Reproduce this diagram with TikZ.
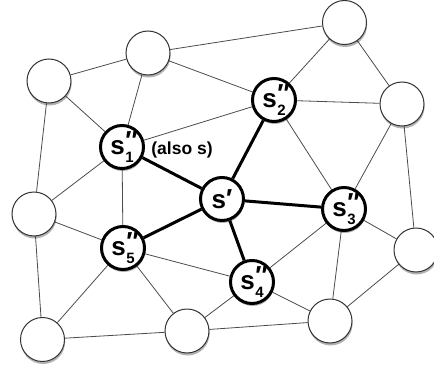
\documentclass[tikz,border=0pt]{standalone}
\usepackage{fontspec}
\setmainfont{Liberation Sans}
\usetikzlibrary{shadows}
\pgfdeclarelayer{background}
\pgfsetlayers{background,main}
\newcommand{\sdd}[1]{s\rlap{\raisebox{0.22em}{\fontsize{26}{26}\selectfont\kern0.5pt ″}}\raisebox{-0.3em}{\fontsize{15}{15}\selectfont\kern0.5pt #1}}
\tikzset{
  plain/.style={circle, draw=black!80, line width=1pt, fill=white, minimum size=44pt, inner sep=0pt,
    drop shadow={opacity=0.3, shadow xshift=0.6pt, shadow yshift=-2.5pt, fill=black}},
  key/.style={circle, draw=black, line width=3pt, fill=white, minimum size=43pt, inner sep=0pt,
    font=\fontsize{26}{26}\selectfont\bfseries,
    drop shadow={opacity=0.3, shadow xshift=0.6pt, shadow yshift=-2.5pt, fill=black}},
  thin/.style={draw=black!70, line width=0.8pt},
  thick/.style={draw=black, line width=3pt},
}
\begin{document}
\begin{tikzpicture}[x=1pt,y=-1pt]
\useasboundingbox (0,0) rectangle (434,372);
\clip (0,0) rectangle (434,372);
\node[plain] (A) at (49,81) {};
\node[plain] (B) at (148,53) {};
\node[plain] (TR) at (344.5,22.5) {};
\node[plain] (R) at (402,104) {};
\node[plain] (L) at (34,214) {};
\node[plain] (RL) at (416,250) {};
\node[plain] (BL) at (42.5,339.5) {};
\node[plain] (BM) at (187,331) {};
\node[plain] (BR) at (330,321) {};
\node[key] (s1) at (122,147) {\sdd{1}};
\node[key] (s2) at (274,100) {\sdd{2}};
\node[key] (sp) at (222,199) {s\raisebox{0.02em}{′}};
\node[key] (s3) at (344,209) {\sdd{3}};
\node[key] (s4) at (252,282) {\sdd{4}};
\node[key] (s5) at (123,248) {\sdd{5}};
\node[font=\fontsize{17.5}{17.5}\selectfont\bfseries] (also) at (182,150) {(also s)};
\begin{pgfonlayer}{background}
\foreach \a/\b in {A/B, A/s1, A/L, B/TR, B/s2, B/s1, s1/s2, s1/L, s1/s5, TR/s2, TR/R, s2/R, s2/s3, R/s3, R/RL, s3/RL, s3/BR, s3/s4, RL/BR, s4/BR, s4/BM, BM/BR, s5/s4, s5/L, s5/BL, s5/BM, L/BL, BL/BM}
  \draw[thin] (\a) -- (\b);
\foreach \b in {s1,s2,s3,s4,s5}
  \draw[thick] (sp) -- (\b);
\end{pgfonlayer}
\end{tikzpicture}
\end{document}
